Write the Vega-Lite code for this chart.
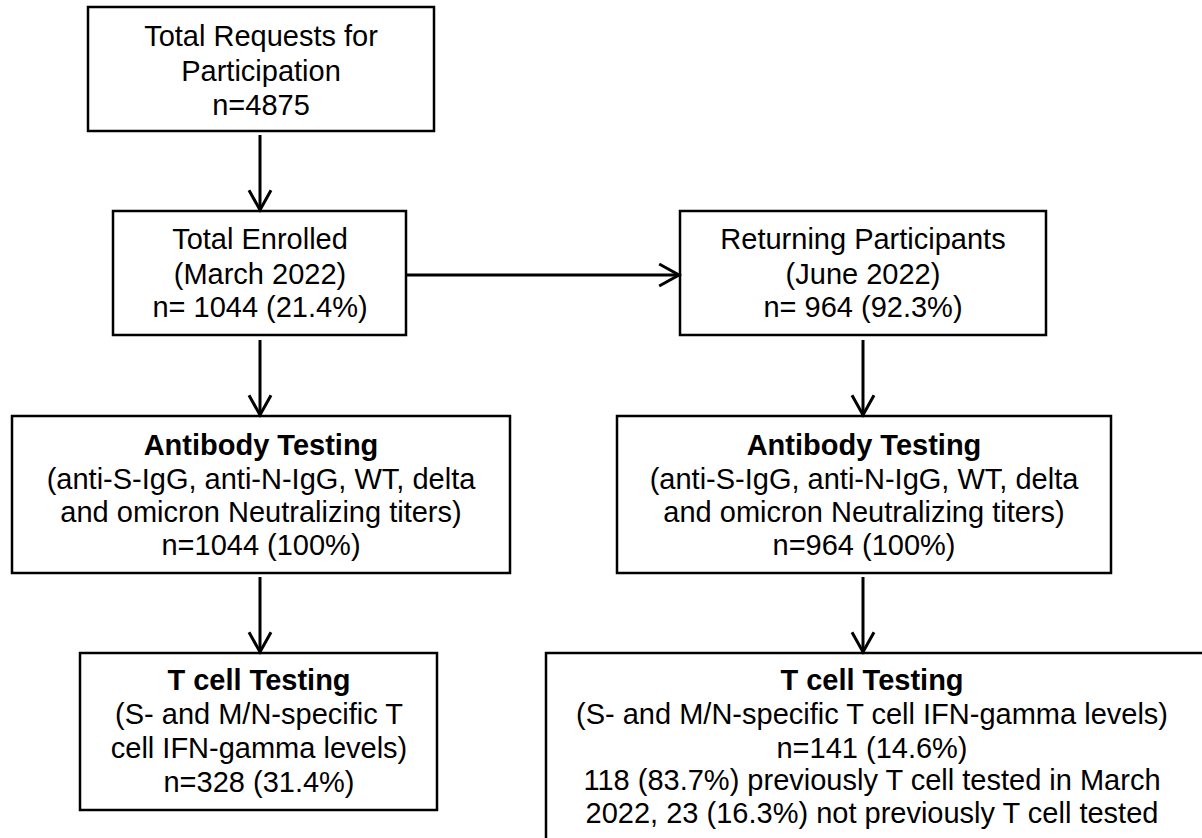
{
  "$schema": "https://vega.github.io/schema/vega-lite/v6.json",
  "width": 1202,
  "height": 838,
  "padding": 0,
  "autosize": {"type": "none"},
  "background": "white",
  "config": {"view": {"stroke": null}},
  "datasets": {
    "boxes": [
      {"id": "requests", "x1": 88, "x2": 434, "y1": 7, "y2": 131},
      {"id": "enrolled", "x1": 113, "x2": 406, "y1": 211, "y2": 335},
      {"id": "returning", "x1": 680, "x2": 1046, "y1": 211, "y2": 335},
      {"id": "ab_march", "x1": 12, "x2": 510, "y1": 416, "y2": 573},
      {"id": "ab_june", "x1": 617, "x2": 1111, "y1": 416, "y2": 573},
      {"id": "t_march", "x1": 80, "x2": 437, "y1": 653, "y2": 810},
      {"id": "t_june", "x1": 546, "x2": 1225, "y1": 653, "y2": 860}
    ],
    "arrows": [
      {"from": "requests", "to": "enrolled", "x1": 260, "y1": 135, "x2": 260, "y2": 210, "dir": "down"},
      {"from": "enrolled", "to": "ab_march", "x1": 260, "y1": 340, "x2": 260, "y2": 415, "dir": "down"},
      {"from": "ab_march", "to": "t_march", "x1": 260, "y1": 577, "x2": 260, "y2": 652, "dir": "down"},
      {"from": "enrolled", "to": "returning", "x1": 406, "y1": 275, "x2": 679, "y2": 275, "dir": "right"},
      {"from": "returning", "to": "ab_june", "x1": 863, "y1": 340, "x2": 863, "y2": 415, "dir": "down"},
      {"from": "ab_june", "to": "t_june", "x1": 863, "y1": 577, "x2": 863, "y2": 652, "dir": "down"}
    ],
    "labels": [
      {"box": "requests", "x": 261, "y": 37, "text": "Total Requests for", "weight": "normal"},
      {"box": "requests", "x": 261, "y": 72, "text": "Participation", "weight": "normal"},
      {"box": "requests", "x": 261, "y": 106, "text": "n=4875", "weight": "normal"},
      {"box": "enrolled", "x": 260, "y": 240, "text": "Total Enrolled", "weight": "normal"},
      {"box": "enrolled", "x": 260, "y": 275, "text": "(March 2022)", "weight": "normal"},
      {"box": "enrolled", "x": 260, "y": 308, "text": "n= 1044 (21.4%)", "weight": "normal"},
      {"box": "returning", "x": 863, "y": 240, "text": "Returning Participants", "weight": "normal"},
      {"box": "returning", "x": 863, "y": 275, "text": "(June 2022)", "weight": "normal"},
      {"box": "returning", "x": 863, "y": 308, "text": "n= 964 (92.3%)", "weight": "normal"},
      {"box": "ab_march", "x": 261, "y": 446, "text": "Antibody Testing", "weight": "bold"},
      {"box": "ab_march", "x": 261, "y": 480, "text": "(anti-S-IgG, anti-N-IgG, WT, delta", "weight": "normal"},
      {"box": "ab_march", "x": 261, "y": 513, "text": "and omicron Neutralizing titers)", "weight": "normal"},
      {"box": "ab_march", "x": 261, "y": 546, "text": "n=1044 (100%)", "weight": "normal"},
      {"box": "ab_june", "x": 864, "y": 446, "text": "Antibody Testing", "weight": "bold"},
      {"box": "ab_june", "x": 864, "y": 480, "text": "(anti-S-IgG, anti-N-IgG, WT, delta", "weight": "normal"},
      {"box": "ab_june", "x": 864, "y": 513, "text": "and omicron Neutralizing titers)", "weight": "normal"},
      {"box": "ab_june", "x": 864, "y": 546, "text": "n=964 (100%)", "weight": "normal"},
      {"box": "t_march", "x": 259, "y": 681, "text": "T cell Testing", "weight": "bold"},
      {"box": "t_march", "x": 259, "y": 715, "text": "(S- and M/N-specific T", "weight": "normal"},
      {"box": "t_march", "x": 259, "y": 749, "text": "cell IFN-gamma levels)", "weight": "normal"},
      {"box": "t_march", "x": 259, "y": 783, "text": "n=328 (31.4%)", "weight": "normal"},
      {"box": "t_june", "x": 872, "y": 681, "text": "T cell Testing", "weight": "bold"},
      {"box": "t_june", "x": 872, "y": 715, "text": "(S- and M/N-specific T cell IFN-gamma levels)", "weight": "normal"},
      {"box": "t_june", "x": 872, "y": 749, "text": "n=141 (14.6%)", "weight": "normal"},
      {"box": "t_june", "x": 872, "y": 781, "text": "118 (83.7%) previously T cell tested in March", "weight": "normal"},
      {"box": "t_june", "x": 872, "y": 814, "text": "2022, 23 (16.3%) not previously T cell tested", "weight": "normal"}
    ]
  },
  "layer": [
    {
      "data": {"name": "boxes"},
      "mark": {"type": "rect", "fill": "white", "stroke": "black", "strokeWidth": 2.5, "clip": true},
      "encoding": {
        "x": {"field": "x1", "type": "quantitative", "scale": {"domain": [0, 1202], "nice": false, "zero": false}, "axis": null},
        "x2": {"field": "x2"},
        "y": {"field": "y1", "type": "quantitative", "scale": {"domain": [0, 838], "nice": false, "zero": false, "reverse": true}, "axis": null},
        "y2": {"field": "y2"}
      }
    },
    {
      "data": {"name": "arrows"},
      "mark": {"type": "rule", "stroke": "black", "strokeWidth": 3},
      "encoding": {
        "x": {"field": "x1", "type": "quantitative", "axis": null},
        "x2": {"field": "x2"},
        "y": {"field": "y1", "type": "quantitative", "axis": null},
        "y2": {"field": "y2"}
      }
    },
    {
      "data": {"name": "arrows"},
      "mark": {"type": "point", "shape": "M-1,-1.8L0,0L1,-1.8", "size": 484, "filled": false, "stroke": "black", "strokeWidth": 3, "opacity": 1, "strokeJoin": "miter"},
      "encoding": {
        "x": {"field": "x2", "type": "quantitative", "axis": null},
        "y": {"field": "y2", "type": "quantitative", "axis": null},
        "angle": {"field": "dir", "type": "nominal", "scale": {"domain": ["down", "right"], "range": [0, 270]}, "legend": null}
      }
    },
    {
      "data": {"name": "labels"},
      "transform": [{"filter": "datum.weight === 'normal'"}],
      "mark": {"type": "text", "font": "Liberation Sans", "fontSize": 29, "fontWeight": "normal", "color": "black", "align": "center", "baseline": "middle"},
      "encoding": {
        "x": {"field": "x", "type": "quantitative", "axis": null},
        "y": {"field": "y", "type": "quantitative", "axis": null},
        "text": {"field": "text"}
      }
    },
    {
      "data": {"name": "labels"},
      "transform": [{"filter": "datum.weight === 'bold'"}],
      "mark": {"type": "text", "font": "Liberation Sans", "fontSize": 29, "fontWeight": "bold", "color": "black", "align": "center", "baseline": "middle"},
      "encoding": {
        "x": {"field": "x", "type": "quantitative", "axis": null},
        "y": {"field": "y", "type": "quantitative", "axis": null},
        "text": {"field": "text"}
      }
    }
  ]
}
